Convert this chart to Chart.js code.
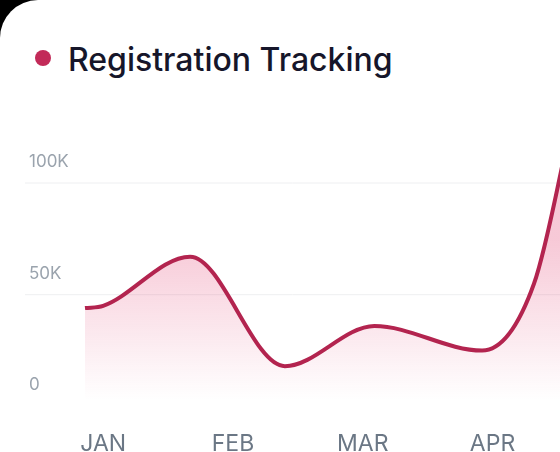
<!DOCTYPE html>
<html>
<head>
<meta charset="utf-8">
<script src="https://cdn.jsdelivr.net/npm/chart.js@4/dist/chart.umd.min.js"></script>
<style>
  html, body { margin: 0; padding: 0; background: #000; overflow: hidden; }
  .card { position: absolute; left: 0; top: 0; width: 600px; height: 500px; background: #fff; border-top-left-radius: 38px; }
  .title { position: absolute; left: 35px; top: 40px; font-family: Inter, "Noto Sans", sans-serif; font-size: 32px; font-weight: 500; color: #16162a; }
  .title .dot { display: inline-block; width: 16px; height: 16px; border-radius: 50%; background: #c22a58; margin-right: 17px; vertical-align: 5px; }
  #chart { position: absolute; left: 0; top: 0; }
</style>
</head>
<body>
<div class="card"></div>
<div class="title"><span class="dot"></span>Registration Tracking</div>
<canvas id="chart" width="560" height="476"></canvas>
<script>
// month positions (0 = JAN) and registrations
const monthLabels = ['JAN', 'FEB', 'MAR', 'APR'];
const xPositions = [-0.14, 0.0, 0.67, 1.4, 2.09, 2.92, 3.32, 3.62];
const registrations = [44000, 45000, 67000, 18000, 36000, 25000, 55000, 130000];
const yTicks = [0, 50000, 100000];

const points = xPositions.map((x, i) => ({ x: x, y: registrations[i] }));

// y labels sit above their grid lines
const yGridPlugin = {
    id: 'yGrid',
    beforeDatasetsDraw(chart) {
        const { ctx, chartArea } = chart;
        const y = chart.scales.y;
        ctx.save();
        ctx.font = '17px Inter, "Noto Sans", sans-serif';
        ctx.fillStyle = '#9aa3ad';
        ctx.textBaseline = 'alphabetic';
        yTicks.forEach(v => {
            const py = y.getPixelForValue(v);
            if (v > 0) {
                ctx.strokeStyle = '#eeeff1';
                ctx.lineWidth = 1;
                ctx.beginPath();
                ctx.moveTo(25, py);
                ctx.lineTo(chartArea.right, py);
                ctx.stroke();
            }
            ctx.fillText(v === 0 ? '0' : (v / 1000) + 'K', 29, py - 16);
        });
        ctx.restore();
    }
};

const ctx = document.getElementById('chart').getContext('2d');
const grad = ctx.createLinearGradient(0, 240, 0, 400);
grad.addColorStop(0, 'rgba(226, 60, 110, 0.28)');
grad.addColorStop(1, 'rgba(226, 60, 110, 0.0)');

new Chart(ctx, {
    type: 'line',
    data: {
        datasets: [{
            data: points,
            borderColor: '#b3244f',
            borderWidth: 4,
            backgroundColor: grad,
            fill: 'origin',
            pointRadius: 0,
            cubicInterpolationMode: 'monotone',
            clip: false
        }]
    },
    options: {
        responsive: false,
        animation: false,
        layout: { padding: { left: 85, right: 0, top: 183, bottom: 2 } },
        plugins: { legend: { display: false }, tooltip: { enabled: false } },
        scales: {
            x: {
                type: 'linear',
                min: -0.14,
                max: 3.52,
                afterBuildTicks: axis => { axis.ticks = monthLabels.map((m, i) => ({ value: i })); },
                grid: { display: false },
                border: { display: false },
                ticks: {
                    callback: v => monthLabels[v],
                    color: '#6b7785',
                    font: { size: 23, family: 'Inter, "Noto Sans", sans-serif' },
                    padding: 16,
                    maxRotation: 0
                }
            },
            y: { display: false, min: 0, max: 100000 }
        }
    },
    plugins: [yGridPlugin]
});
</script>
</body>
</html>
